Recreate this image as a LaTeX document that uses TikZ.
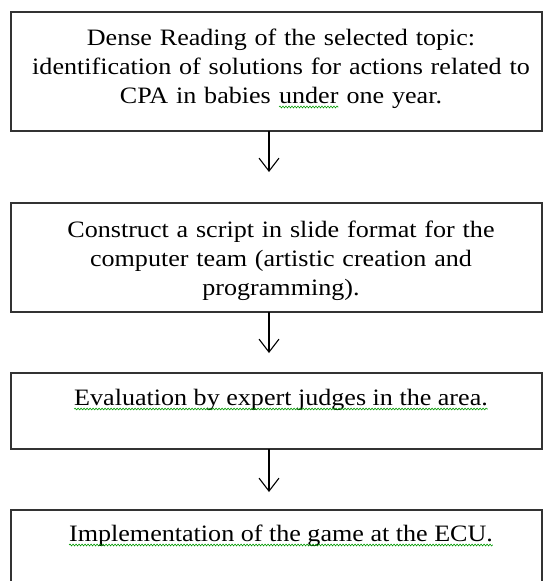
\documentclass[tikz,border=0pt]{standalone}
\usepackage{fontspec}
\setmainfont{Liberation Serif}[FakeStretch=1.11]
\usepackage{xcolor}
\usetikzlibrary{positioning, arrows.meta, decorations.pathmorphing}

% green spell-check wave under words
\newcommand{\spellmark}[1]{\tikz[baseline=(sw.base)]{\node[inner sep=0pt, outer sep=0pt] (sw) {#1};
  \draw[green!60!black, line width=0.6pt, decorate, decoration={snake, amplitude=0.9pt, segment length=3pt}]
    ([yshift=-4pt]sw.base west) -- ([yshift=-4pt]sw.base east);}}

\tikzset{
  stepbox/.style={draw=black!80, line width=1.4pt, minimum width=531pt, inner sep=0pt, outer sep=0pt},
  steptext/.style={anchor=base, text width=524pt, align=center, inner sep=0pt, font=\fontsize{23.5}{29}\selectfont},
  flow/.style={line width=1.1pt, -{Straight Barb[length=13pt, width=20pt]}}
}

\begin{document}
\begin{tikzpicture}[x=1pt, y=1pt]
  \useasboundingbox (0,0) rectangle (544,-581);

  \node[stepbox, minimum height=119pt, anchor=north] (box1) at (276.5,-12) {};
  \node[stepbox, minimum height=109pt, below=72pt of box1] (box2) {};
  \node[stepbox, minimum height=76pt, below=61pt of box2] (box3) {};
  \node[stepbox, minimum height=100pt, below=61pt of box3] (box4) {};

  \node[steptext] (txt1) at ([xshift=4.5pt, yshift=-33pt]box1.north)
    {Dense Reading of the selected topic:\\ identification of solutions for actions related to\\ CPA in babies \spellmark{under} one year.};
  \node[steptext] (txt2) at ([xshift=4.5pt, yshift=-34pt]box2.north)
    {Construct a script in slide format for the\\ computer team (artistic creation and\\ programming).};
  \node[steptext] (txt3) at ([xshift=4.5pt, yshift=-32pt]box3.north)
    {\spellmark{Evaluation by expert judges in the area.}};
  \node[steptext] (txt4) at ([xshift=4.5pt, yshift=-31pt]box4.north)
    {\spellmark{Implementation of the game at the ECU.}};

  \coordinate (tip1) at ([xshift=-7.5pt, yshift=-41pt]box1.south);
  \coordinate (tip2) at ([xshift=-7.5pt, yshift=-41pt]box2.south);
  \coordinate (tip3) at ([xshift=-7.5pt, yshift=-43pt]box3.south);

  \draw[flow] ([xshift=-7.5pt]box1.south) -- (tip1);
  \draw[flow] ([xshift=-7.5pt]box2.south) -- (tip2);
  \draw[flow] ([xshift=-7.5pt]box3.south) -- (tip3);
\end{tikzpicture}
\end{document}
